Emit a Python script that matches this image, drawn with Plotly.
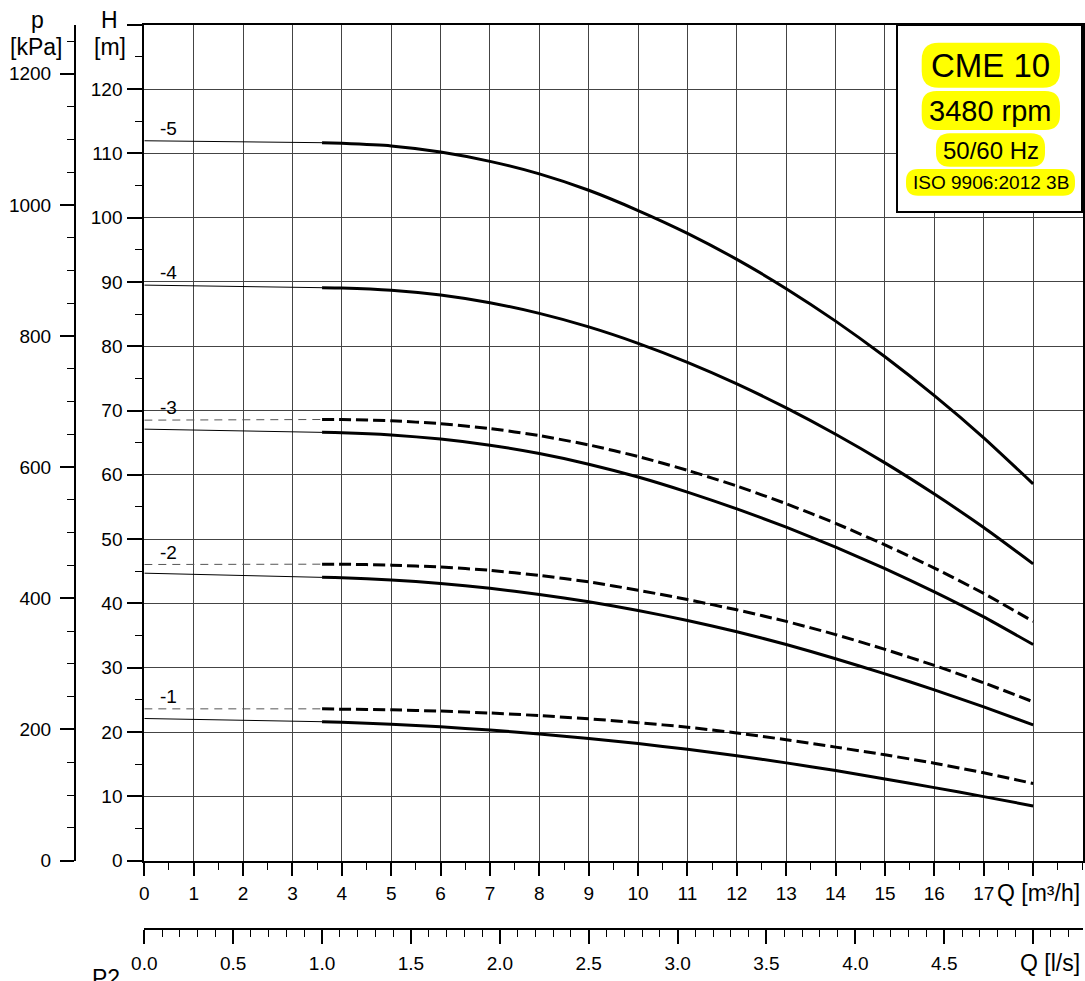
import plotly.graph_objects as go

# ---------------- data ----------------
Q_thin = [0.0, 1.8, 3.6]
Q_thick = [3.6, 4, 5, 6, 7, 8, 9, 10, 11, 12, 13, 14, 15, 16, 17, 18]

H5_thin = [111.95, 111.75, 111.65]
H5 = [111.65, 111.55, 111.15, 110.2, 108.75, 106.8, 104.25, 101.1, 97.55, 93.5, 88.95, 83.9, 78.35, 72.3, 65.75, 58.6]

H4_thin = [89.5, 89.25, 89.1]
H4 = [89.1, 89.05, 88.7, 87.95, 86.75, 85.1, 83.0, 80.45, 77.5, 74.15, 70.4, 66.3, 61.85, 57.0, 51.8, 46.15]

H3_thin = [67.1, 66.8, 66.6]
H3 = [66.6, 66.55, 66.2, 65.55, 64.6, 63.3, 61.65, 59.65, 57.3, 54.7, 51.85, 48.75, 45.4, 41.8, 37.9, 33.6]
H3d_thin = [68.5, 68.55, 68.6]
H3d = [68.6, 68.6, 68.4, 67.95, 67.2, 66.1, 64.65, 62.85, 60.7, 58.25, 55.5, 52.45, 49.1, 45.5, 41.55, 37.2]

H2_thin = [44.7, 44.35, 44.05]
H2 = [44.05, 44.0, 43.65, 43.1, 42.35, 41.4, 40.25, 38.9, 37.35, 35.6, 33.6, 31.4, 29.05, 26.55, 23.9, 21.1]
H2d_thin = [46.05, 46.05, 46.1]
H2d = [46.1, 46.1, 45.95, 45.65, 45.15, 44.35, 43.35, 42.05, 40.6, 39.0, 37.2, 35.15, 32.85, 30.35, 27.65, 24.7]

H1_thin = [22.1, 21.85, 21.6]
H1 = [21.6, 21.5, 21.2, 20.8, 20.3, 19.7, 19.0, 18.2, 17.3, 16.3, 15.2, 14.0, 12.7, 11.35, 9.95, 8.5]
H1d_thin = [23.6, 23.6, 23.6]
H1d = [23.6, 23.55, 23.45, 23.25, 22.95, 22.55, 22.05, 21.45, 20.75, 19.85, 18.8, 17.65, 16.45, 15.15, 13.65, 12.0]

curve_labels = ["-5", "-4", "-3", "-2", "-1"]
label_H = [113.8, 91.5, 70.5, 47.9, 25.5]
label_Q = 0.5

Q_ticks = list(range(0, 19))
Q_ticktext = [str(v) for v in range(0, 18)] + [""]
H_ticks = list(range(0, 131, 10))
H_ticktext = [str(v) for v in range(0, 121, 10)] + [""]
p_ticks = list(range(0, 1201, 200))
ls_ticks = [0.0, 0.5, 1.0, 1.5, 2.0, 2.5, 3.0, 3.5, 4.0, 4.5, 5.0]
ls_ticktext = ["%.1f" % v for v in ls_ticks[:-1]] + [""]

legend_lines = ["CME 10", "3480 rpm", "50/60 Hz", "ISO 9906:2012 3B"]

G = 9.80665  # kPa per m of water
M3H_PER_LS = 3.6

# ---------------- layout geometry (pixels) ----------------
W, Hpx = 1085, 981
FONT = "Liberation Sans, Arial, sans-serif"
TICK_FS = 19
TITLE_FS = 23


def px(x):
    return x / W


def py(y):
    return 1 - y / Hpx


x_left, x_right = 144.3, 1082.5
y_bot, y_top = 860.6, 24.7

fig = go.Figure()

thin_solid = dict(color="black", width=1)
thin_dash = dict(color="#555555", width=1, dash="8px,6px")
thick_solid = dict(color="black", width=3, shape="spline", smoothing=0.5)
thick_dash = dict(color="black", width=3, dash="12px,5px", shape="spline", smoothing=0.5)

curves = [
    (H5_thin, H5, False),
    (H4_thin, H4, False),
    (H3d_thin, H3d, True),
    (H3_thin, H3, False),
    (H2d_thin, H2d, True),
    (H2_thin, H2, False),
    (H1d_thin, H1d, True),
    (H1_thin, H1, False),
]
for thin, thick, dashed in curves:
    fig.add_trace(go.Scatter(x=Q_thin, y=thin, mode="lines",
                             line=thin_dash if dashed else thin_solid,
                             hoverinfo="skip", showlegend=False))
    fig.add_trace(go.Scatter(x=Q_thick, y=thick, mode="lines",
                             line=thick_dash if dashed else thick_solid,
                             hoverinfo="skip", showlegend=False))

# invisible traces to activate secondary axes
fig.add_trace(go.Scatter(x=[q / M3H_PER_LS for q in Q_thick], y=H5, xaxis="x2", yaxis="y",
                         mode="lines", opacity=0, hoverinfo="skip", showlegend=False))
fig.add_trace(go.Scatter(x=Q_thick, y=[h * G for h in H5], xaxis="x", yaxis="y2",
                         mode="lines", opacity=0, hoverinfo="skip", showlegend=False))

axis_common = dict(showline=True, linecolor="black", linewidth=2,
                   ticks="outside", tickcolor="black", tickwidth=2,
                   tickfont=dict(family=FONT, size=TICK_FS, color="black"),
                   zeroline=False, fixedrange=True, automargin=False)

fig.update_layout(
    template="none",
    width=W, height=Hpx,
    margin=dict(l=0, r=0, t=0, b=0, pad=0, autoexpand=False),
    paper_bgcolor="white", plot_bgcolor="white",
    font=dict(family=FONT, size=TICK_FS, color="black"),
    xaxis=dict(domain=[px(x_left), px(x_right)], range=[0, 19],
               tickmode="array", tickvals=Q_ticks, ticktext=Q_ticktext,
               ticklen=13, mirror=True,
               showgrid=True, gridcolor="#444444", gridwidth=1,
               minor=dict(tickmode="linear", tick0=0, dtick=0.5, ticklen=7,
                          tickwidth=1, tickcolor="black", ticks="outside", showgrid=False),
               ticklabelstandoff=2, anchor="y", **axis_common),
    yaxis=dict(domain=[py(y_bot), py(y_top)], range=[0, 130],
               tickmode="array", tickvals=H_ticks, ticktext=H_ticktext,
               ticklen=15, mirror=True,
               showgrid=True, gridcolor="#444444", gridwidth=1,
               minor=dict(tickmode="linear", tick0=0, dtick=5, ticklen=7,
                          tickwidth=1, tickcolor="black", ticks="outside", showgrid=False),
               ticklabelstandoff=1, anchor="x", **axis_common),
    yaxis2=dict(overlaying="y", anchor="free", position=px(75), side="left",
                range=[0, 130 * G], tickmode="array", tickvals=p_ticks,
                ticklen=14, showgrid=False,
                minor=dict(tickmode="linear", tick0=0, dtick=50, ticklen=7,
                           tickwidth=1, tickcolor="black", ticks="outside", showgrid=False),
                ticklabelstandoff=5, **axis_common),
    xaxis2=dict(overlaying="x", anchor="free", position=py(929), side="bottom",
                range=[0, 19 / M3H_PER_LS], tickmode="array", tickvals=ls_ticks,
                ticktext=ls_ticktext, ticklen=14, showgrid=False,
                minor=dict(tickmode="linear", tick0=0, dtick=0.1, ticklen=7,
                           tickwidth=1, tickcolor="black", ticks="outside", showgrid=False),
                ticklabelstandoff=3, **axis_common),
)

annotations = []


def ann(text, x, y, size=TITLE_FS, xanchor="center", yanchor="middle", xref="paper", yref="paper"):
    annotations.append(dict(text=text, x=x, y=y, xref=xref, yref=yref,
                            xanchor=xanchor, yanchor=yanchor, showarrow=False,
                            font=dict(family=FONT, size=size, color="black")))


# axis titles
ann("p", px(37), py(20))
ann("[kPa]", px(36), py(47))
ann("H", px(109.5), py(20))
ann("[m]", px(109.5), py(47))
ann("Q [m³/h]", px(1082), py(893), xanchor="right")
ann("Q [l/s]", px(1082), py(963), xanchor="right")
ann("P2", px(90), py(963), size=TITLE_FS, xanchor="left", yanchor="top")

# curve labels
for lab, hv in zip(curve_labels, label_H):
    ann(lab, label_Q, hv, size=19, xref="x", yref="y")

# legend box
shapes = [dict(type="rect", xref="paper", yref="paper",
               x0=px(897), x1=px(1082), y0=py(212), y1=py(25),
               line=dict(color="black", width=2), fillcolor="white", layer="above")]


def pill(x0, y0, x1, y1, r):
    pts = [
        ("M", x0 + r, y0), ("L", x1 - r, y0), ("Q", x1, y0, x1, y0 + r),
        ("L", x1, y1 - r), ("Q", x1, y1, x1 - r, y1), ("L", x0 + r, y1),
        ("Q", x0, y1, x0, y1 - r), ("L", x0, y0 + r), ("Q", x0, y0, x0 + r, y0),
    ]
    s = ""
    for p in pts:
        cmd = p[0]
        coords = p[1:]
        c = []
        for i in range(0, len(coords), 2):
            c.append("%.5f,%.5f" % (px(coords[i]), py(coords[i + 1])))
        s += cmd + " " + " ".join(c) + " "
    return s + "Z"


pills = [
    (921.7, 42.7, 1060, 87.7, 17, 33, 65.2),
    (921.7, 91, 1060, 130, 15, 29, 111.0),
    (936, 133.3, 1045, 166.7, 14, 24, 150.5),
    (906, 169, 1075, 195.7, 12, 19, 182.5),
]
for (x0, y0, x1, y1, r, fs, yc), txt in zip(pills, legend_lines):
    shapes.append(dict(type="path", xref="paper", yref="paper", path=pill(x0, y0, x1, y1, r),
                       fillcolor="#ffff00", line=dict(width=0), layer="above"))
    ann(txt, px((x0 + x1) / 2), py(yc), size=fs)

fig.update_layout(shapes=shapes, annotations=annotations)

fig.write_html("out.html", config={"displayModeBar": False},
               post_script="document.body.style.margin='0';")
